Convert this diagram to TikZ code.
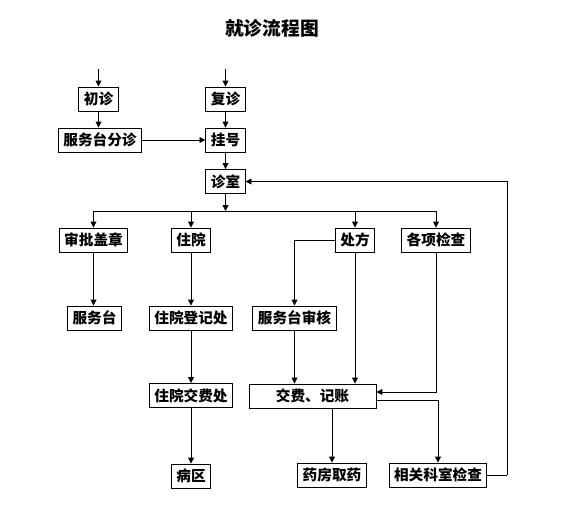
\documentclass[tikz,border=0pt]{standalone}
\usepackage{fontspec}
\newfontfamily\cjk{Noto Sans CJK SC}
\usetikzlibrary{arrows.meta}

\begin{document}
\begin{tikzpicture}[
    box/.style={draw,line width=0.8pt,minimum height=0.72cm,inner xsep=0.15cm,inner ysep=0pt,
      font=\cjk\bfseries\fontsize{12.5}{14}\selectfont},
    flow/.style={-{Triangle[width=5pt,length=5pt]},line width=0.7pt},
    line/.style={line width=0.7pt}]

  \useasboundingbox (0,0) rectangle (16.92,15.69);

  % Title
  \node[font=\cjk\bfseries\fontsize{16}{18}\selectfont] (Title) at (8.16,14.85) {就诊流程图};

  % Registration
  \node[box] (Chuzhen) at (2.955,12.72) {初诊};
  \node[box] (Fuzhen) at (6.765,12.72) {复诊};
  \node[box] (Fenzhen) at (3.0,11.49) {服务台分诊};
  \node[box] (Guahao) at (6.765,11.49) {挂号};
  \node[box] (Zhenshi) at (6.765,10.245) {诊室};

  \coordinate (InA) at (2.955,13.63);
  \coordinate (InB) at (6.765,13.63);
  \coordinate (Branch) at (6.765,9.36);

  \draw[flow] (InA) to (Chuzhen);
  \draw[flow] (InB) to (Fuzhen);
  \draw[flow] (Chuzhen.south) to (Chuzhen.south |- Fenzhen.north);
  \draw[flow] (Fuzhen) to (Guahao);
  \draw[flow] (Fenzhen) to (Guahao);
  \draw[flow] (Guahao) to (Zhenshi);
  \draw[flow] (Zhenshi) to (Branch);


  % Branches
  \node[box] (Shenpi) at (2.805,8.49) {审批盖章};
  \node[box] (Zhuyuan) at (5.73,8.49) {住院};
  \node[box] (Chufang) at (10.65,8.49) {处方};
  \node[box] (Jiancha) at (13.08,8.49) {各项检查};

  \draw[flow] (Branch) -| (Shenpi);
  \draw[flow] (Branch) -| (Zhuyuan);
  \draw[flow] (Branch) -| (Chufang);
  \draw[flow] (Branch) -| (Jiancha);


  % Second row
  \node[box] (Fuwutai) at (2.835,6.15) {服务台};
  \node[box] (Dengji) at (5.73,6.15) {住院登记处};
  \node[box] (Shenhe) at (8.835,6.15) {服务台审核};

  \draw[flow] (Shenpi.south) to (Shenpi.south |- Fuwutai.north);
  \draw[flow] (Zhuyuan) to (Dengji);
  \draw[flow] (Chufang) -| (Shenhe);


  % Payment
  \node[box] (Jiaofeichu) at (5.73,3.825) {住院交费处};
  \node[box,minimum width=3.81cm] (Jizhang) at (9.375,3.81) {交费、记账};

  \draw[flow] (Dengji) to (Jiaofeichu);
  \draw[flow] (Shenhe.south) to (Shenhe.south |- Jizhang.north);
  \draw[flow] (Chufang.south) to (Chufang.south |- Jizhang.north);
  \draw[flow] (Jiancha.south) |- ([yshift=0.12cm]Jizhang.east);


  % Last row
  \node[box] (Bingqu) at (5.73,1.41) {病区};
  \node[box] (Quyao) at (9.96,1.44) {药房取药};
  \node[box] (Keshi) at (13.14,1.44) {相关科室检查};

  \draw[flow] (Jiaofeichu) to (Bingqu);
  \draw[flow] (Jizhang.south -| Quyao.north) to (Quyao.north);
  \draw[flow] ([yshift=-0.12cm]Jizhang.east) -| (Keshi);

  \coordinate (Back) at (15.21,1.44);
  \draw[line] (Keshi) to (Back);
  \draw[flow] (Back) |- (Zhenshi);

\end{tikzpicture}
\end{document}
